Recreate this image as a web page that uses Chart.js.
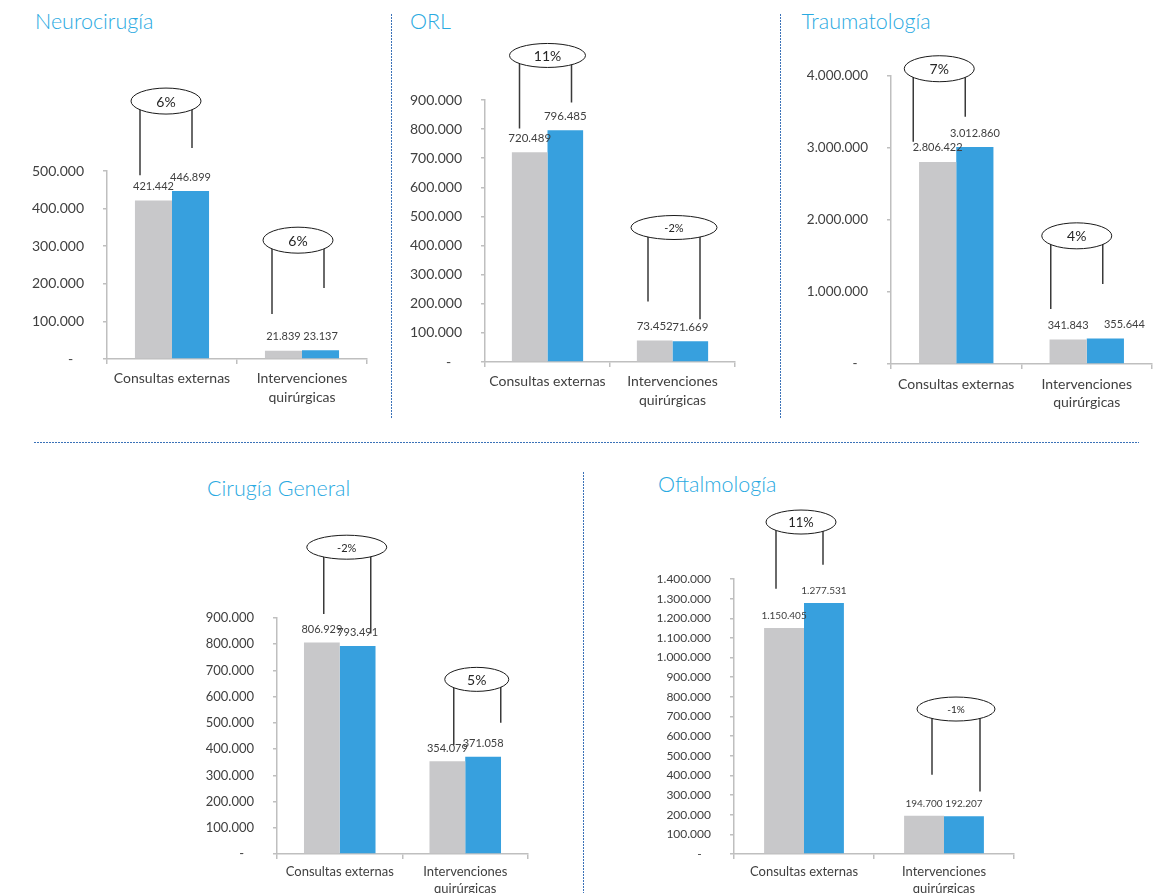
<!DOCTYPE html>
<html lang="es">
<head>
<meta charset="utf-8">
<title>Actividad asistencial por especialidad</title>
<script src="https://cdn.jsdelivr.net/npm/chart.js@4.4.1/dist/chart.umd.min.js"></script>
<style>
  html, body { margin: 0; padding: 0; background: #fff; overflow: hidden; }
  body { width: 1169px; height: 893px; position: relative; font-family: Lato, sans-serif; }
  .title { position: absolute; color: #29a9e1; font-family: Lato, sans-serif; font-weight: 300;
           font-size: 21.5px; line-height: 1.2; white-space: nowrap; }
  .sep-v { position: absolute; width: 1px;
           background: repeating-linear-gradient(to bottom, #3b72b8 0 2px, transparent 2px 3px); }
  .sep-h { position: absolute; height: 1px;
           background: repeating-linear-gradient(to right, #3b72b8 0 2px, transparent 2px 3px); }
  canvas { position: absolute; }
</style>
</head>
<body>
<div class="sep-v" style="left:391px; top:14px; height:404px;"></div>
<div class="sep-v" style="left:780px; top:14px; height:404px;"></div>
<div class="sep-h" style="left:34px; top:442px; width:1105px;"></div>
<div class="sep-v" style="left:583px; top:472px; height:421px;"></div>
<script>
// ---- data ----
const categories = ['Consultas externas', ['Intervenciones', 'quirúrgicas']];
const titles = ['Neurocirugía', 'ORL', 'Traumatología', 'Cirugía General', 'Oftalmología'];

const neuroPrev   = [421442, 21839];
const neuroCurr   = [446899, 23137];
const orlPrev     = [720489, 73452];
const orlCurr     = [796485, 71669];
const traumaPrev  = [2806422, 341843];
const traumaCurr  = [3012860, 355644];
const cirugiaPrev = [806929, 354079];
const cirugiaCurr = [793491, 371058];
const oftalmoPrev = [1150405, 194700];
const oftalmoCurr = [1277531, 192207];

// y-axis range and tick step per panel
const axisMax  = [500000, 900000, 4000000, 900000, 1400000];
const axisStep = [100000, 100000, 1000000, 100000, 100000];

const series = [
  [neuroPrev, neuroCurr],
  [orlPrev, orlCurr],
  [traumaPrev, traumaCurr],
  [cirugiaPrev, cirugiaCurr],
  [oftalmoPrev, oftalmoCurr]
];

// ---- layout & style ----
const TEXT = '#404040', GREY = '#c8c8ca', BLUE = '#37a0de', AXIS = '#bfbfbf';
const YW = 100, XH = 50, RP = 15, TITLE_SIZE = 21.5;

// plot: [left, right, top, bottom] of the plotting area on the page
// callouts: ellipse offset from category centre (px), ellipse height and leg ends in axis units
const layout = [
  { plot: [107, 367, 171, 359], regionTop: 40, title: [35, 30.7],
    tick: 14, cat: 14, catLine: 19, catPad: 5, val: 11, gap: 14, pos: 14, neg: 11,
    callouts: [
      { dx: -6, at: 686000, left: [-26, 489000], right: [26, 561000], rx: 35, ry: 13 },
      { dx: -4, at: 316000, left: [-26, 120000], right: [26, 189000], rx: 35, ry: 13 }
    ] },
  { plot: [485, 735, 100, 362], regionTop: 40, title: [410, 30],
    tick: 14, cat: 14, catLine: 19, catPad: 5, val: 11.5, gap: 14, pos: 14, neg: 11,
    callouts: [
      { dx: 0, at: 1053000, left: [-28, 802000], right: [24, 891000], rx: 38, ry: 12 },
      { dx: 1.5, at: 462000, left: [-26, 208000], right: [26, 147000], rx: 43, ry: 12 }
    ] },
  { plot: [891, 1152, 76, 364], regionTop: 40, title: [801.5, 30],
    tick: 13.5, cat: 14, catLine: 18, catPad: 6, val: 11, gap: 14, pos: 14, neg: 11,
    shift: [[0, 0], [0, 19]],
    callouts: [
      { dx: -17, at: 4101000, left: [-26, 3087000], right: [26, 3434000], rx: 35, ry: 13 },
      { dx: -10, at: 1780000, left: [-26, 765000], right: [26, 1112000], rx: 35, ry: 13 }
    ] },
  { plot: [277, 528, 618, 854], regionTop: 500, title: [207, 497.7],
    tick: 13, cat: 13, catLine: 17, catPad: 4, val: 11, gap: 13, pos: 14, neg: 11,
    callouts: [
      { dx: 7, at: 1170000, left: [-23, 915000], right: [24, 841000], rx: 40, ry: 12 },
      { dx: 11.5, at: 666000, left: [-23, 416000], right: [24, 501000], rx: 32, ry: 12 }
    ] },
  { plot: [734, 1014, 579, 854], regionTop: 500, title: [658, 493.3],
    tick: 12, cat: 13, catLine: 17, catPad: 4, val: 10, gap: 12, pos: 13, neg: 10,
    callouts: [
      { dx: -3, at: 1690000, left: [-25, 1351000], right: [22, 1473000], rx: 35, ry: 12 },
      { dx: 12, at: 738000, left: [-24, 403000], right: [24, 318000], rx: 39, ry: 12 }
    ] }
];

const fmt = v => String(Math.round(v)).replace(/\B(?=(\d{3})+(?!\d))/g, '.');

// value labels above the bars plus the variation callouts
function annotations(L) {
  return {
    id: 'annotations',
    afterDatasetsDraw(chart) {
      const ctx = chart.ctx, xs = chart.scales.x, ys = chart.scales.y;
      ctx.save();
      ctx.textAlign = 'center';
      ctx.textBaseline = 'middle';
      ctx.font = L.val + 'px Lato';
      ctx.fillStyle = TEXT;
      chart.data.datasets.forEach((ds, di) => {
        chart.getDatasetMeta(di).data.forEach((bar, i) => {
          const shift = L.shift ? L.shift[di][i] : 0;
          ctx.fillText(fmt(ds.data[i]), bar.x + shift, bar.y - L.gap);
        });
      });
      const prev = chart.data.datasets[0].data, curr = chart.data.datasets[1].data;
      L.callouts.forEach((c, i) => {
        const cx = xs.getPixelForValue(i) + c.dx;
        const cy = ys.getPixelForValue(c.at);
        ctx.strokeStyle = '#3a3a3a';
        ctx.lineWidth = 1.5;
        ctx.beginPath();
        ctx.moveTo(cx + c.left[0], cy);
        ctx.lineTo(cx + c.left[0], ys.getPixelForValue(c.left[1]));
        ctx.moveTo(cx + c.right[0], cy);
        ctx.lineTo(cx + c.right[0], ys.getPixelForValue(c.right[1]));
        ctx.stroke();
        ctx.beginPath();
        ctx.ellipse(cx, cy, c.rx, c.ry, 0, 0, Math.PI * 2);
        ctx.fillStyle = '#fff';
        ctx.fill();
        ctx.strokeStyle = '#1a1a1a';
        ctx.lineWidth = 1;
        ctx.stroke();
        const pct = Math.round((curr[i] / prev[i] - 1) * 100);
        ctx.fillStyle = '#262626';
        ctx.font = (pct < 0 ? L.neg : L.pos) + 'px Lato';
        ctx.fillText(pct + '%', cx, cy + 1);
      });
      ctx.restore();
    }
  };
}

series.forEach(([prev, curr], k) => {
  const L = layout[k];
  const [pl, pr, pt, pb] = L.plot;

  const t = document.createElement('div');
  t.className = 'title';
  t.textContent = titles[k];
  t.style.left = L.title[0] + 'px';
  t.style.top = (L.title[1] - 0.987 * TITLE_SIZE) + 'px';
  document.body.appendChild(t);

  const padTop = pt - L.regionTop;
  const w = pr - pl + YW + RP, h = padTop + (pb - pt) + XH;
  const canvas = document.createElement('canvas');
  canvas.width = w; canvas.height = h;
  canvas.style.width = w + 'px'; canvas.style.height = h + 'px';
  canvas.style.left = (pl - YW) + 'px';
  canvas.style.top = L.regionTop + 'px';
  document.body.appendChild(canvas);

  new Chart(canvas, {
    type: 'bar',
    data: {
      labels: categories,
      datasets: [
        { label: 'Año anterior', data: prev, backgroundColor: GREY, borderWidth: 0,
          categoryPercentage: 0.57, barPercentage: 1 },
        { label: 'Año actual', data: curr, backgroundColor: BLUE, borderWidth: 0,
          categoryPercentage: 0.57, barPercentage: 1 }
      ]
    },
    options: {
      responsive: false,
      animation: false,
      devicePixelRatio: 1,
      layout: { padding: { top: padTop, left: 0, right: RP, bottom: 0 } },
      plugins: { legend: { display: false }, tooltip: { enabled: false } },
      scales: {
        x: {
          grid: { offset: true, drawOnChartArea: false, color: AXIS, tickLength: 5, lineWidth: 1.5 },
          border: { color: AXIS, width: 1.5 },
          ticks: { color: TEXT, font: { family: 'Lato', size: L.cat, lineHeight: L.catLine + 'px' },
                   padding: L.catPad, maxRotation: 0, autoSkip: false },
          afterFit: s => { s.height = XH; }
        },
        y: {
          min: 0, max: axisMax[k],
          grid: { drawOnChartArea: false, color: AXIS, tickLength: 4, lineWidth: 1.5 },
          border: { color: AXIS, width: 1.5 },
          ticks: { stepSize: axisStep[k], color: TEXT, font: { family: 'Lato', size: L.tick },
                   padding: 19, autoSkip: false,
                   callback: v => v === 0 ? '-   ' : fmt(v) },
          afterFit: s => { s.width = YW; }
        }
      }
    },
    plugins: [annotations(L)]
  });
});
</script>
</body>
</html>
